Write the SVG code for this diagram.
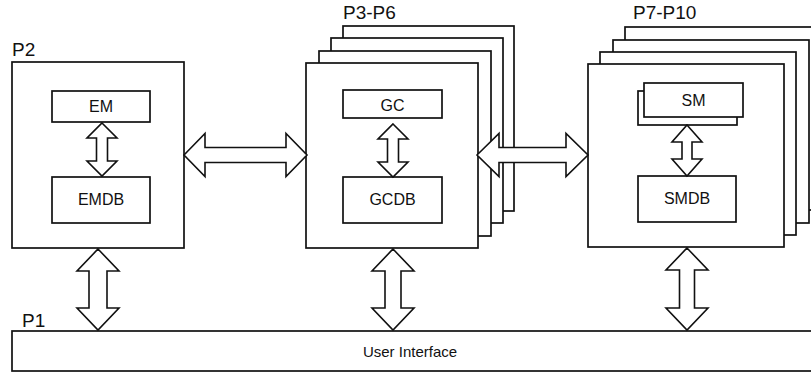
<svg xmlns="http://www.w3.org/2000/svg" width="811" height="375" viewBox="0 0 811 375">
<style>
.b{fill:#fff;stroke:#111;stroke-width:1.7}
.a{fill:#fff;stroke:#111;stroke-width:1.6;stroke-linejoin:miter}
.t{font-family:"Liberation Sans",Arial,sans-serif;font-size:16px;fill:#111;text-anchor:middle}
.l{font-family:"Liberation Sans",Arial,sans-serif;font-size:19px;fill:#111}
</style>
<rect width="811" height="375" fill="#fff"/>
<g id="P2">
<text class="l" x="12" y="56">P2</text>
<rect class="b" x="12" y="62" width="172" height="186"/>
</g>
<g id="P3-P6">
<text class="l" x="343" y="19">P3-P6</text>
<rect class="b" x="343" y="26" width="171" height="185"/>
<rect class="b" x="331" y="38" width="172" height="185"/>
<rect class="b" x="319" y="51" width="172" height="185"/>
<rect class="b" x="306" y="63" width="172" height="185"/>
</g>
<g id="P7-P10">
<text class="l" x="633" y="19">P7-P10</text>
<rect class="b" x="625" y="27" width="197" height="183"/>
<rect class="b" x="613" y="40" width="196" height="183"/>
<rect class="b" x="600" y="52" width="196" height="183"/>
<rect class="b" x="588" y="64" width="196" height="183"/>
</g>
<g id="EM">
<rect class="b" x="52" y="91" width="98" height="31"/>
<text class="t" x="101" y="112">EM</text>
</g>
<g id="EMDB">
<rect class="b" x="52" y="177" width="98" height="46"/>
<text class="t" x="101" y="205">EMDB</text>
</g>
<g id="GC">
<rect class="b" x="343" y="90" width="99" height="28"/>
<text class="t" x="392.5" y="111">GC</text>
</g>
<g id="GCDB">
<rect class="b" x="343" y="177" width="99" height="46"/>
<text class="t" x="392.5" y="205">GCDB</text>
</g>
<g id="SM">
<rect class="b" x="638" y="91" width="99" height="34"/>
<rect class="b" x="644" y="83" width="99" height="34"/>
<text class="t" x="693.5" y="106">SM</text>
</g>
<g id="SMDB">
<rect class="b" x="638" y="176" width="98" height="46"/>
<text class="t" x="687" y="204">SMDB</text>
</g>
<g id="P1">
<text class="l" x="22" y="327">P1</text>
<rect class="b" x="12" y="331" width="800" height="40"/>
<text class="t" x="410" y="357" style="font-size:15px">User Interface</text>
</g>
<g id="connectors">
<polygon class="a" points="102,123 117,138 107.5,138 107.5,161 117,161 102,176 87,161 96.5,161 96.5,138 87,138"/>
<polygon class="a" points="393,124 408,139 398.5,139 398.5,162 408,162 393,177 378,162 387.5,162 387.5,139 378,139"/>
<polygon class="a" points="687,125 702,142 692,142 692,159 702,159 687,176 672,159 682,159 682,142 672,142"/>
<polygon class="a" points="98,249 119,271 107,271 107,308 119,308 98,330 77,308 89,308 89,271 77,271"/>
<polygon class="a" points="393,249 414,271 401,271 401,308 414,308 393,330 372,308 385,308 385,271 372,271"/>
<polygon class="a" points="687,248 708,270 694.5,270 694.5,308 708,308 687,330 666,308 679.5,308 679.5,270 666,270"/>
<polygon class="a" points="184,155 205,133.5 205,147.5 286,147.5 286,133.5 307,155 286,176.5 286,162.5 205,162.5 205,176.5"/>
<polygon class="a" points="477,155 499,133.5 499,147.5 566,147.5 566,133.5 588,155 566,176.5 566,162.5 499,162.5 499,176.5"/>
</g>
</svg>
